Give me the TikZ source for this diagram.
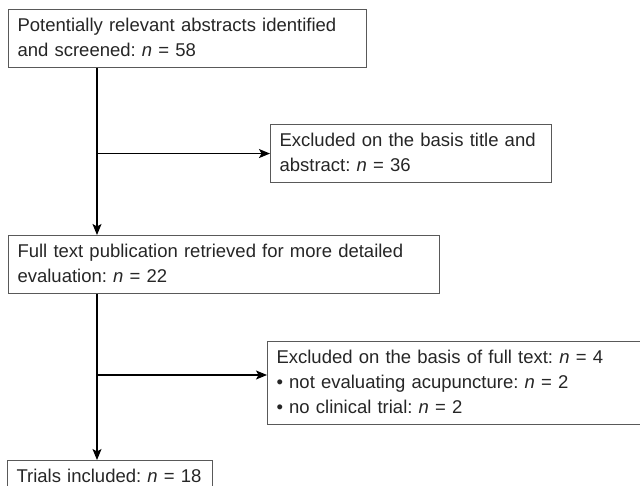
\documentclass[tikz,border=0pt]{standalone}
\usepackage{fontspec}
\setmainfont{Liberation Sans}
\usetikzlibrary{arrows.meta,calc}
\begin{document}
\frenchspacing
\begin{tikzpicture}[x=1pt,y=-1pt,
  box/.style={draw=black!65, line width=1.1pt, anchor=north west, inner xsep=9pt, inner ysep=4pt,
    align=left, font=\fontsize{18.5}{25}\selectfont\frenchspacing, text=black!85},
  arr/.style={line width=1.4pt, -{Stealth[length=11pt,width=9pt,inset=2.5pt]}}]
\useasboundingbox (0,0) rectangle (640,486);
\fill[white] (0,0) rectangle (640,486);
\node[box, minimum width=358pt, minimum height=58pt, text width=340pt] (b1) at (8,9)
  {\strut Potentially relevant abstracts identified\\and screened: \textit{n} = 58\strut};
\node[box, minimum width=281pt, minimum height=58pt, text width=263pt] (b2) at (270,124)
  {\strut Excluded on the basis title and\\abstract: \textit{n} = 36\strut};
\node[box, minimum width=431pt, minimum height=58pt, text width=413pt] (b3) at (8,235)
  {\strut\makebox[404pt][s]{Full text publication retrieved for more detailed}\\evaluation: \textit{n} = 22\strut};
\node[box, minimum width=390pt, minimum height=83pt, text width=372pt] (b4) at (267,341)
  {\strut Excluded on the basis of full text: \textit{n} = 4\\%
   \textbullet\ not evaluating acupuncture: \textit{n} = 2\\%
   \textbullet\ no clinical trial: \textit{n} = 2\strut};
\node[box, minimum width=205pt, minimum height=33pt, text width=187pt] (b5) at (7,460)
  {\strut\makebox[187pt][l]{Trials included: \textit{n} = 18}\strut};
\coordinate (v1) at ($(b1.south west)+(89,0)$);
\coordinate (v2) at ($(b3.south west)+(89,0)$);
\coordinate (t4) at ($(b4.north west)+(0,34)$);
\draw[arr] (v1) -- (v1 |- b3.north);
\draw[arr] (b2.west -| v1) -- (b2.west);
\draw[arr] (v2) -- (v2 |- b5.north);
\draw[arr] (t4 -| v2) -- (t4);
\end{tikzpicture}
\end{document}
